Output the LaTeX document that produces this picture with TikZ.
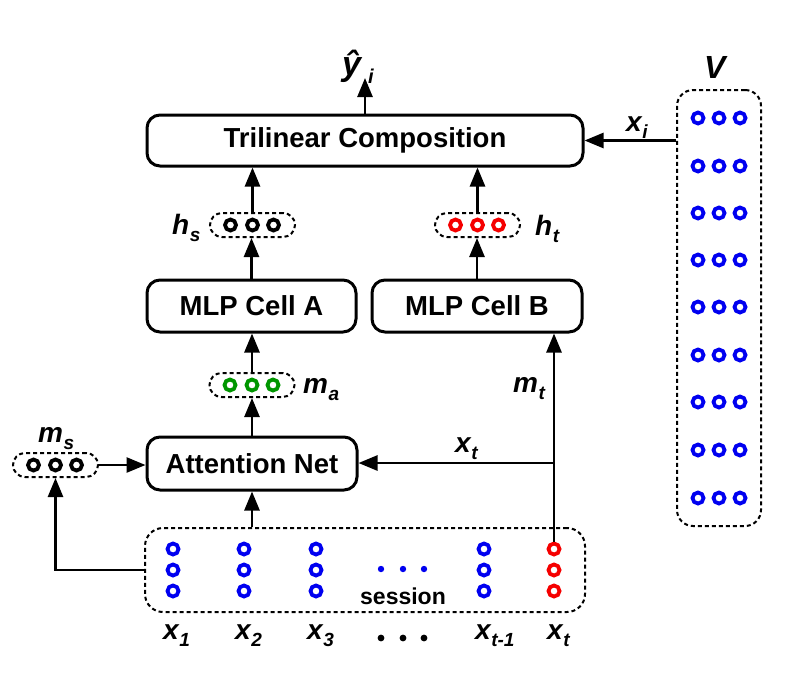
\documentclass[tikz,border=0pt]{standalone}
\usepackage{fontspec}
\setmainfont{Liberation Sans}
\usetikzlibrary{arrows.meta,calc}
\newcommand\lsub[1]{\kern0.5pt\raisebox{-7pt}{\fontsize{19}{20}\selectfont #1}}
\definecolor{cblue}{RGB}{0,0,240}
\definecolor{cred}{RGB}{245,0,0}
\definecolor{cgreen}{RGB}{0,150,0}
\begin{document}
\begin{tikzpicture}[x=1pt,y=-1pt,
  box/.style={draw,line width=3pt,rounded corners=13pt,inner sep=0pt,
    font=\fontsize{27.5}{30}\selectfont\bfseries},
  vec/.style={draw,line width=2pt,dash pattern=on 4pt off 3pt,inner sep=0pt,
    rounded corners=12pt,minimum width=85pt,minimum height=24pt},
  arr/.style={line width=2.6pt,-{Triangle[length=19pt,width=15pt]}},
  lbl/.style={inner sep=0pt,anchor=base west,font=\fontsize{28}{30}\selectfont\bfseries\itshape},
  ring/.style={line width=3.8pt},
]
\useasboundingbox (0,0) rectangle (791,681);

% main boxes
\node[box,minimum width=436pt,minimum height=51pt] (tri) at (365,140.5) {Trilinear Composition};
\node[box,minimum width=209pt,minimum height=52pt] (mlpA) at (251.5,306) {MLP Cell A};
\node[box,minimum width=210pt,minimum height=52pt] (mlpB) at (477,306) {MLP Cell B};
\node[box,minimum width=210pt,minimum height=53pt] (att) at (252,463.5) {Attention Net};

% vectors
\node[vec] (hs) at (252.5,225) {};
\node[vec] (ht) at (477.5,225) {};
\node[vec] (ma) at (252,385) {};
\node[vec] (ms) at (55.5,465) {};
\node[draw,line width=2pt,dash pattern=on 4pt off 3pt,rounded corners=18pt,
  minimum width=440pt,minimum height=84pt] (sess) at (365,570) {};
\node[draw,line width=2pt,dash pattern=on 4pt off 3pt,rounded corners=16pt,
  minimum width=84pt,minimum height=436pt] (V) at (719,308) {};

% rings in vectors
\foreach \dx in {-22,0,21}{
  \draw[ring] ($(hs)+(\dx,0)$) circle (5.5pt);
  \draw[ring,cred] ($(ht)+(\dx,0)$) circle (5.5pt);
  \draw[ring,cgreen] ($(ma)+(\dx,0)$) circle (5.5pt);
  \draw[ring] ($(ms)+(\dx,0)$) circle (5.5pt);
}
% V rows
\foreach \yy in {118,166,213,260,307,355,402,450,498}{
  \foreach \xx in {698,719,740}{
    \draw[ring,cblue] (\xx,\yy) circle (5.5pt);
  }
}
% session columns
\foreach \xx in {173,244,316,484}{
  \foreach \yy in {549,570,591}{
    \draw[ring,cblue] (\xx,\yy) circle (5.5pt);
  }
}
\foreach \yy in {549,570,591}{
  \draw[ring,cred] (554,\yy) circle (5.5pt);
}
\foreach \xx in {381,403,424}{
  \fill[cblue] (\xx,569) circle (3.2pt);
  \fill (\xx,638) circle (3.4pt);
}
\node[inner sep=0pt,font=\fontsize{23}{25}\selectfont\bfseries] (sesslbl) at (403,596) {session};

% coordinates
\coordinate (yhat) at (365,78);
\coordinate (xtop) at (554,542);
\coordinate (j) at (554,463);

% connectors
\draw[arr] (tri.north) -- (yhat);
\draw[arr] (V.west |- tri.east) -- (tri.east);
\draw[arr] (hs.north) -- (hs.north |- tri.south);
\draw[arr] (mlpA.north) -- (mlpA.north |- hs.south);
\draw[arr] (ht.north) -- (ht.north |- tri.south);
\draw[arr] (mlpB.north) -- (mlpB.north |- ht.south);
\draw[arr] (ma.north) -- (ma.north |- mlpA.south);
\draw[arr] (att.north) -- (att.north |- ma.south);
\draw[arr] (ms.east) -- (ms.east -| att.west);
\draw[arr] (sess.north -| att) -- (att.south);
\draw[arr] (sess.west) -| (ms.south);
\draw[arr] (xtop) -- (xtop |- mlpB.south);
\draw[arr] (j) -- (j -| att.east);

% labels
\node[lbl,font=\fontsize{34}{36}\selectfont\bfseries\itshape] (lyhat) at (342,75) {ŷ\kern7pt\raisebox{-8pt}{\fontsize{20}{20}\selectfont i}};
\node[lbl] (lxi) at (626,131) {x\lsub{i}};
\node[lbl,font=\fontsize{32}{34}\selectfont\bfseries\itshape] (lV) at (704,78) {V};
\node[lbl] (lhs) at (172,234) {h\lsub{s}};
\node[lbl] (lht) at (535,235) {h\lsub{t}};
\node[lbl] (lma) at (303,393) {m\lsub{a}};
\node[lbl] (lms) at (38,442) {m\lsub{s}};
\node[lbl] (lmt) at (513,392) {m\lsub{t}};
\node[lbl] (lxt) at (455,452) {x\lsub{t}};
\node[lbl] (lx1) at (163,639) {x\lsub{1}};
\node[lbl] (lx2) at (235,639) {x\lsub{2}};
\node[lbl] (lx3) at (307,639) {x\lsub{3}};
\node[lbl] (lxt1) at (475,639) {x\lsub{t-1}};
\node[lbl] (lxtt) at (547,639) {x\lsub{t}};
\end{tikzpicture}
\end{document}
